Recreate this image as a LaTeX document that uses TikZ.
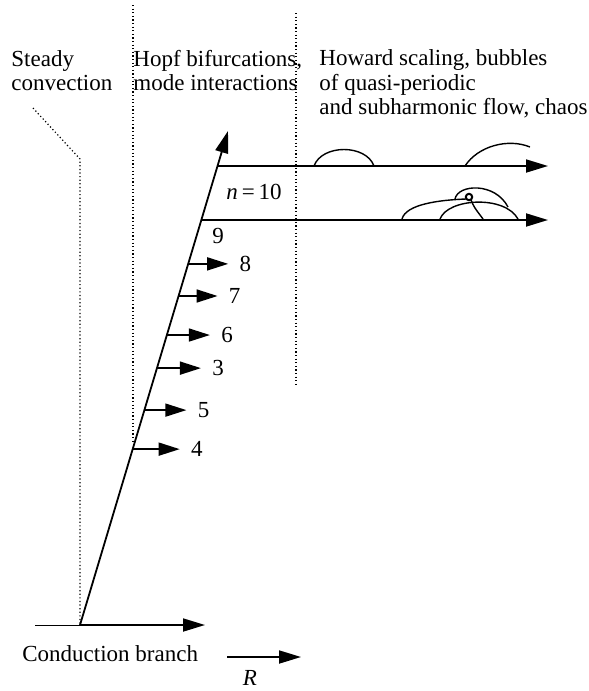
\documentclass[tikz,border=0pt]{standalone}
\usepackage{fontspec}
\setmainfont{Liberation Serif}
\usetikzlibrary{arrows.meta,positioning,calc}

\begin{document}
\begin{tikzpicture}[
    x=0.5pt, y=-0.5pt,
    font=\fontsize{11.5}{12.25}\selectfont,
    txt/.style={anchor=base west, inner sep=0pt},
    arr/.style={-{Triangle[length=11pt, width=6.5pt]}, line width=0.9pt},
    harr/.style={-{Triangle[length=10.5pt, width=6.5pt]}, line width=0.8pt},
    bubble/.style={line width=0.7pt},
    sep/.style={line width=0.6pt, dash pattern=on 0.6pt off 1.2pt},
    num/.style={anchor=west, inner sep=0pt, xshift=5.5pt}
]
  \useasboundingbox (0,0) rectangle (589,691);

  % regime headings
  \node[txt] (steadyA) at (11,66)  {Steady};
  \node[txt] (steadyB) at (11,90)  {convection};
  \node[txt] (hopfA)   at (133,66) {Hopf bifurcations,};
  \node[txt] (hopfB)   at (133,90) {mode interactions};
  \node[txt] (howA)    at (319,65) {Howard scaling, bubbles};
  \node[txt] (howB)    at (319,90) {of quasi-periodic};
  \node[txt] (howC)    at (319,114) {and subharmonic flow, chaos};

  % regime boundaries
  \draw[sep] (33,108) -- (80,159) -- (80,625);
  \draw[sep] (133,5) -- (133,442);
  \draw[sep] (296,13) -- (296,387);

  % conduction branch and main branch
  \coordinate (base) at (80,625);
  \coordinate (top)  at (228,131);
  \coordinate (cl)   at (35,625);
  \coordinate (cr)   at (205,625);
  \draw[line width=0.5pt] (cl) -- (base);
  \draw[arr] (base) -- (cr);
  \draw[arr] (base) -- (top);
  \node[txt] (cond) at (22,661) {Conduction branch};
  \coordinate (ra) at (227,657);
  \coordinate (rb) at (301,657);
  \draw[arr] (ra) -- (rb);
  \node[anchor=base, inner sep=0pt] (rlab) at (250,685) {\textit{R}};

  % Hopf modes
  \foreach \t/\n/\len in {0.731/8/40, 0.666/7/39, 0.587/6/43, 0.520/3/44, 0.435/5/42, 0.356/4/47}{
    \coordinate (s\n) at ($(base)!\t!(top)$);
    \coordinate (e\n) at ($(s\n)+(\len,0)$);
    \draw[harr] (s\n) -- (e\n);
    \node[num] (lab\n) at (e\n) {\n};
  }

  % n = 10 and n = 9 branches
  \coordinate (ha) at ($(base)!0.929!(top)$);
  \coordinate (hb) at (548,166);
  \coordinate (ga) at ($(base)!0.820!(top)$);
  \coordinate (gb) at (548,220);
  \draw[arr] (ha) -- (hb);
  \draw[arr] (ga) -- (gb);
  \node[anchor=base, inner sep=0pt] (nten) at (254,199) {{\itshape n}\,=\,10};
  \node[anchor=base, inner sep=0pt] (nnine) at (218,243) {9};

  % bubbles
  \draw[bubble] (314,166) .. controls (322,144) and (366,144) .. (374,166);
  \draw[bubble] (465,166) .. controls (478,146) and (508,138) .. (530,147);
  \draw[bubble] (402,219) .. controls (406,204) and (440,200) .. (466,199);
  \draw[line width=1pt] (469,197) circle (3.2);
  \draw[bubble] (471,200) .. controls (474,207) .. (483,219);
  \draw[bubble] (440,219) .. controls (448,198) and (505,195) .. (518,219);
  \draw[bubble] (455,199) .. controls (458,184) and (495,182) .. (508,207);
\end{tikzpicture}
\end{document}
